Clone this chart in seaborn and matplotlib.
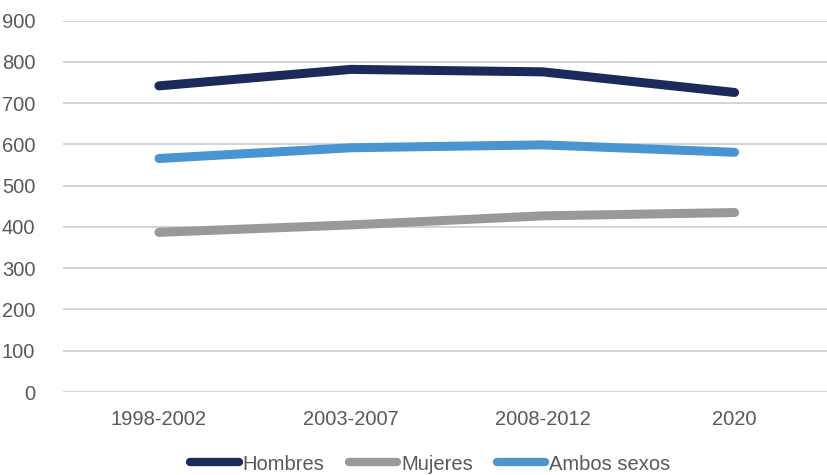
import pandas as pd
import seaborn as sns
import matplotlib.pyplot as plt

periods = ['1998-2002', '2003-2007', '2008-2012', '2020']
hombres = [742, 782, 776, 726]
mujeres = [387, 405, 427, 435]
ambos = [566, 592, 599, 581]

series_names = ['Hombres', 'Mujeres', 'Ambos sexos']
colors = ['#1c2a59', '#989a9a', '#4a95d0']

df = pd.DataFrame({'periodo': periods, 'Hombres': hombres,
                   'Mujeres': mujeres, 'Ambos sexos': ambos})
df_melted = pd.melt(df, id_vars='periodo', value_name='valor', var_name='serie')

sns.set_theme(style='white')
plt.rcParams['font.family'] = ['Liberation Sans', 'DejaVu Sans']

fig = plt.figure(figsize=(8.28, 4.75), dpi=100)
ax = fig.add_axes([63 / 828, 1 - 392 / 475, 1 - 63 / 828 + 0.01, (392 - 20.7) / 475])

sns.lineplot(data=df_melted, x='periodo', y='valor', hue='serie',
             hue_order=series_names, palette=colors, sort=False,
             linewidth=6.5, solid_capstyle='round', ax=ax)

ax.set_ylim(0, 900)
ax.set_yticks(range(0, 901, 100))
ax.set_xlim(-0.5, 3.53)
ax.grid(axis='y', color='#d0d0d0', linewidth=1.3)
ax.set_axisbelow(True)
for s in ax.spines.values():
    s.set_visible(False)
ax.set_xlabel('')
ax.set_ylabel('')
ax.tick_params(axis='both', length=0, labelsize=14.5, labelcolor='#595959')
ax.tick_params(axis='x', pad=13)
ax.tick_params(axis='y', pad=20)

handles, labels = ax.get_legend_handles_labels()
ax.get_legend().remove()
leg = fig.legend(handles, labels, loc='center', bbox_to_anchor=(0.52, 1 - 464 / 475),
                 ncol=3, frameon=False, fontsize=14.5, handlelength=2.4,
                 handletextpad=0.2, columnspacing=1.2)
for t in leg.get_texts():
    t.set_color('#595959')
for h in leg.get_lines():
    h.set_linewidth(6)
    h.set_solid_capstyle('round')

fig.savefig('out.png', dpi=100)
